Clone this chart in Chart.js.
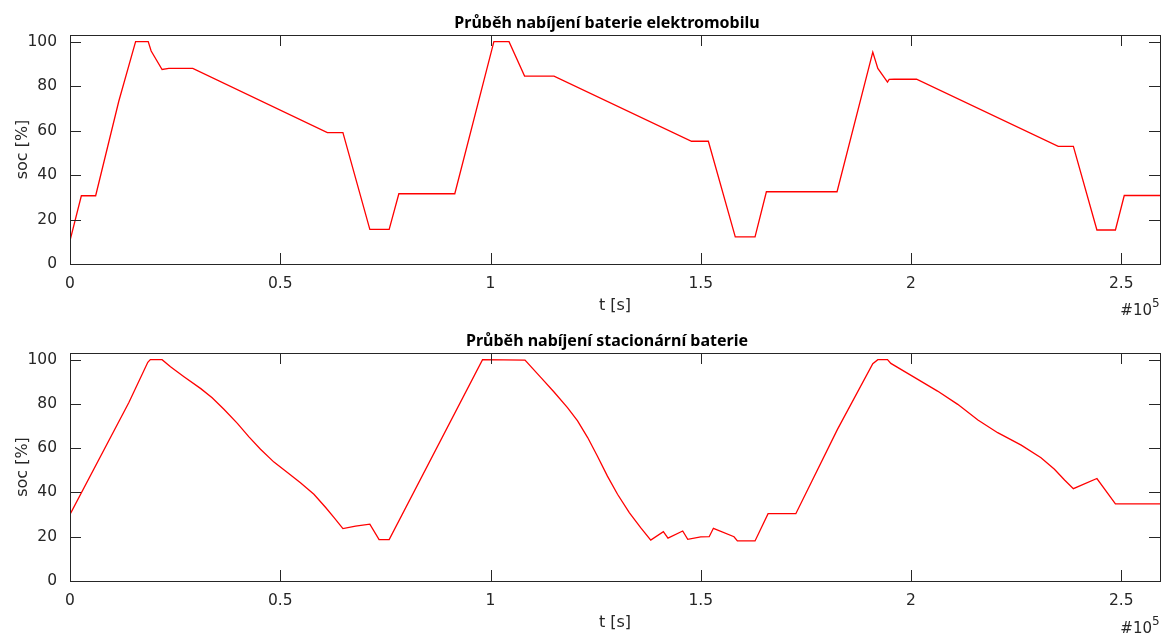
<!DOCTYPE html>
<html>
<head>
<meta charset="utf-8">
<script src="https://cdn.jsdelivr.net/npm/chart.js@4.4.0/dist/chart.umd.min.js"></script>
<style>
  html, body { margin: 0; padding: 0; background: #fff; }
  canvas { position: absolute; left: 0; }
</style>
</head>
<body>
<canvas id="evChart" width="1162" height="318" style="top:0"></canvas>
<canvas id="stChart" width="1162" height="317" style="top:318px"></canvas>
<script>
// DATA
const T_MAX = 259200;
const xTicks = [0, 50000, 100000, 150000, 200000, 250000];
const yTicks = [0, 20, 40, 60, 80, 100];

// battery of the electric car
const tEv = [0, 2700, 6100, 11600, 15600, 18600, 19300, 21900, 23500, 29200,
  61200, 64900, 71300, 75900, 78200, 91500, 100800, 104400, 108100, 115100,
  147800, 151800, 158200, 162900, 165600, 182400, 190900, 192100, 194400, 194800,
  196000, 201300, 235000, 238600, 244200, 248600, 250700, 259200];
const socEv = [10.5, 30.7, 30.7, 73.2, 100, 100, 95.8, 87.5, 88, 88,
  59.1, 59.1, 15.6, 15.6, 31.6, 31.6, 100, 100, 84.5, 84.5,
  55.2, 55.2, 12.2, 12.2, 32.5, 32.5, 95.3, 88, 81.8, 83,
  83.1, 83.1, 52.9, 52.9, 15.3, 15.3, 30.8, 30.8];

// stationary battery
const tSt = [0, 14000, 18500, 19100, 21900, 23900, 27100, 31100, 33800, 36600,
  39800, 42500, 45300, 48500, 51700, 54800, 58000, 60800, 62800, 64900,
  67900, 71300, 73500, 75900, 98100, 108200, 112000, 115100, 118300, 120700,
  123100, 125400, 127800, 130200, 133000, 135700, 138100, 141100, 142200, 145700,
  146900, 150000, 152000, 153000, 157900, 158700, 162900, 166000, 172600, 182500,
  190900, 192100, 194400, 195200, 200000, 206300, 211100, 215900, 220600, 226200,
  230900, 234100, 236500, 238600, 244200, 248600, 259200];
const socSt = [30.1, 80.6, 98.8, 100, 100, 96.8, 92.3, 86.9, 82.8, 77.6,
  71.2, 65.2, 59.5, 53.7, 49, 44.4, 39.2, 33.2, 28.6, 23.7,
  24.8, 25.7, 18.7, 18.7, 100, 99.8, 91.9, 85.4, 78.3, 72.3,
  64.8, 56.5, 47.4, 39.2, 30.9, 24.1, 18.5, 22.3, 19.4, 22.6,
  18.8, 19.9, 20, 23.8, 20, 18.1, 18.1, 30.4, 30.4, 68.5,
  98.2, 100, 100, 98.3, 92.9, 85.8, 79.8, 72.7, 67, 61.4,
  55.7, 50.5, 45.6, 41.7, 46.3, 34.8, 34.8];

const AXIS_COLOR = '#262626';
const TICK_FONT = { family: 'DejaVu Sans', size: 15.5 };
const LABEL_FONT = { family: 'DejaVu Sans', size: 16 };

// ===================================================
// BOX, INNER TICKS, TITLE, EXPONENT
// ===================================================
const frame = {
  id: 'frame',
  afterDraw(chart, args, opts) {
    const { ctx, chartArea: a, scales } = chart;
    const tl = 11;
    ctx.save();
    ctx.strokeStyle = AXIS_COLOR;
    ctx.lineWidth = 1;
    ctx.beginPath();
    scales.x.ticks.forEach(t => {
      const px = Math.round(scales.x.getPixelForValue(t.value)) + 0.5;
      ctx.moveTo(px, a.bottom); ctx.lineTo(px, a.bottom - tl);
      ctx.moveTo(px, a.top); ctx.lineTo(px, a.top + tl);
    });
    scales.y.ticks.forEach(t => {
      const py = Math.round(scales.y.getPixelForValue(t.value)) + 0.5;
      ctx.moveTo(a.left, py); ctx.lineTo(a.left + tl, py);
      ctx.moveTo(a.right, py); ctx.lineTo(a.right - tl, py);
    });
    ctx.stroke();
    ctx.strokeRect(Math.round(a.left) + 0.5, Math.round(a.top) + 0.5,
      Math.round(a.right - a.left), Math.round(a.bottom - a.top));

    // title
    ctx.fillStyle = '#000';
    ctx.font = 'bold 16px "Noto Sans"';
    ctx.textAlign = 'center';
    ctx.textBaseline = 'alphabetic';
    ctx.fillText(opts.title, 607, 28);

    // x exponent
    ctx.fillStyle = AXIS_COLOR;
    ctx.font = '15px "DejaVu Sans"';
    ctx.textAlign = 'right';
    ctx.fillText('#10', 1152, 315);
    ctx.font = '12px "DejaVu Sans"';
    ctx.textAlign = 'left';
    ctx.fillText('5', 1152, 307);
    ctx.restore();
  }
};

function makeChart(id, tVals, socVals, title) {
  return new Chart(document.getElementById(id), {
    type: 'line',
    data: {
      datasets: [{
        data: tVals.map((t, i) => ({ x: t, y: socVals[i] })),
        borderColor: '#ff0000',
        borderWidth: 1.3,
        pointRadius: 0,
        tension: 0,
        fill: false
      }]
    },
    options: {
      responsive: false,
      animation: false,
      devicePixelRatio: 1,
      layout: { padding: { top: 35, right: 2, left: 0, bottom: 0 } },
      plugins: {
        legend: { display: false },
        tooltip: { enabled: false },
        frame: { title: title }
      },
      scales: {
        x: {
          type: 'linear', min: 0, max: T_MAX,
          grid: { display: false }, border: { display: false },
          afterBuildTicks(s) { s.ticks = xTicks.map(v => ({ value: v })); },
          ticks: {
            autoSkip: false, maxRotation: 0,
            padding: 3, color: AXIS_COLOR, font: TICK_FONT,
            callback: v => v / 1e5
          },
          title: { display: true, text: 't [s]', color: AXIS_COLOR, font: LABEL_FONT, padding: { top: 0, bottom: 3 } },
          afterFit(s) { s.height = 54; }
        },
        y: {
          min: 0, max: 103,
          grid: { display: false }, border: { display: false },
          afterBuildTicks(s) { s.ticks = yTicks.map(v => ({ value: v })); },
          ticks: {
            padding: 5, color: AXIS_COLOR, font: TICK_FONT
          },
          title: { display: true, text: 'soc [%]', color: AXIS_COLOR, font: LABEL_FONT, padding: { top: 13, bottom: 0 } },
          afterFit(s) { s.width = 70; }
        }
      }
    },
    plugins: [frame]
  });
}

makeChart('evChart', tEv, socEv, 'Průběh nabíjení baterie elektromobilu');
makeChart('stChart', tSt, socSt, 'Průběh nabíjení stacionární baterie');
</script>
</body>
</html>
